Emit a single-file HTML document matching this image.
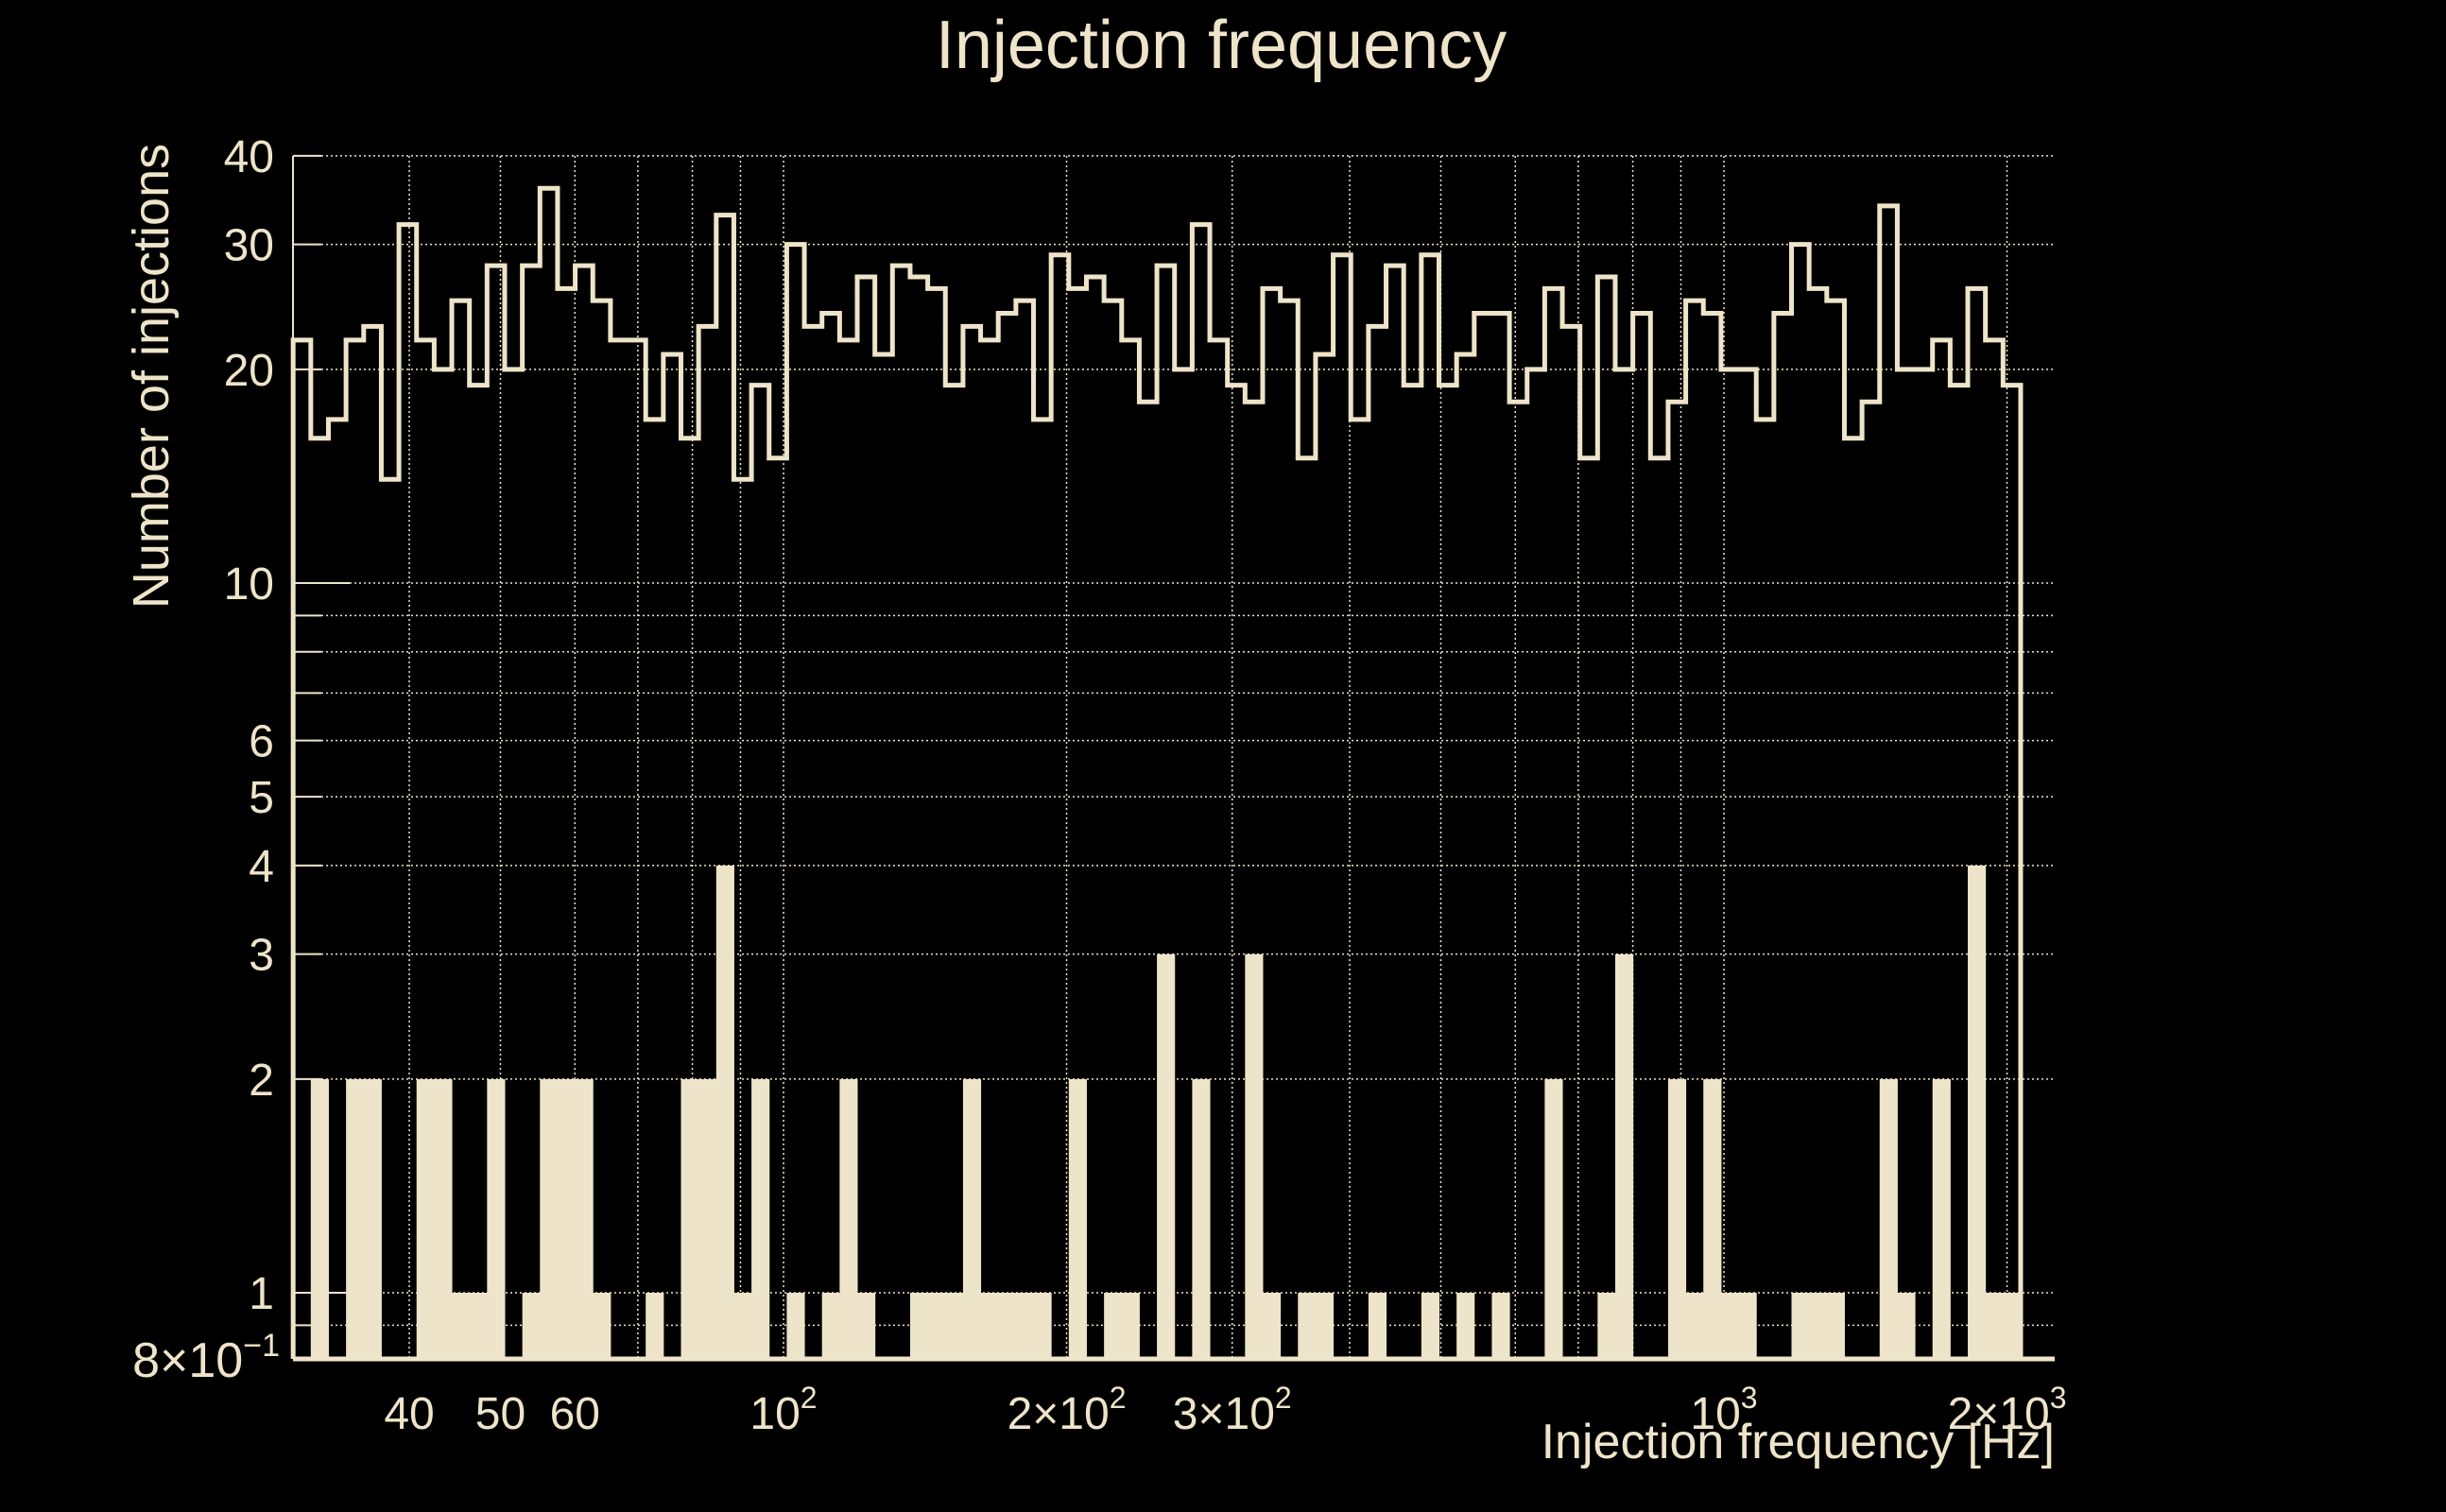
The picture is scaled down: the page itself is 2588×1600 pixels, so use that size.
<!DOCTYPE html>
<html><head><meta charset="utf-8"><title>Injection frequency</title>
<style>
html,body{margin:0;padding:0;background:#000;}
svg{display:block;}
text{font-family:"Liberation Sans",sans-serif;fill:#eee4c9;}
</style></head>
<body>
<svg id="chart" width="2588" height="1600" viewBox="0 0 2588 1600" xmlns="http://www.w3.org/2000/svg">
<rect x="0" y="0" width="2588" height="1600" fill="#000"/>
<text x="1292" y="72" font-size="72" text-anchor="middle">Injection frequency</text>
<text transform="translate(178,398) rotate(-90)" font-size="54" text-anchor="middle">Number of injections</text>
<text x="2174" y="1543" font-size="52" text-anchor="end">Injection frequency [Hz]</text>
<g id="grid"></g>
<g id="bars"></g>
<g id="line"></g>
<g id="axes"></g>
</svg>
<script>
const totalCounts = [22,16,17,22,23,14,32,22,20,25,19,28,20,28,36,26,28,25,22,22,17,21,16,23,33,14,19,
15,30,23,24,22,27,21,28,27,26,19,23,22,24,25,17,29,26,27,25,22,18,28,20,32,
22,19,18,26,25,15,21,29,17,23,28,19,29,19,21,24,24,18,20,26,23,15,27,20,24,
15,18,25,24,20,20,17,24,30,26,25,16,18,34,20,20,22,19,26,22,19];
const selectedCounts = [0,2,0,2,2,0,0,2,2,1,1,2,0,1,2,2,2,1,0,0,1,0,2,2,4,1,2,
0,1,0,1,2,1,0,0,1,1,1,2,1,1,1,1,0,2,0,1,1,0,3,0,2,
0,0,3,1,0,1,1,0,0,1,0,0,1,0,1,0,1,0,0,2,0,0,1,3,0,
0,2,1,2,1,1,0,0,1,1,1,0,0,2,1,0,2,0,4,1,1];
const binLow = 30.1;
const binHigh = 2068;
const xGridValues = [40,50,60,70,80,90,100,200,300,400,500,600,700,800,900,1000,2000];
const xTickValues = [40,50,60,100,200,300,1000,2000];
const xTickLabels = ["40","50","60","10|2","2×10|2","3×10|2","10|3","2×10|3"];
const yGridValues = [40,30,20,10,9,8,7,6,5,4,3,2,1,0.9];
const yTickValues = [40,30,20,10,6,5,4,3,2,1];
const yTickLabels = ["40","30","20","10","6","5","4","3","2","1"];

const NS="http://www.w3.org/2000/svg";
const C="#eee4c9";
const L=310,R=2174,T=165,B=1438;
const X0=829, DEC_X=995;
const Y1=1368, DEC_Y=751;
function xs(v){return X0+(Math.log10(v)-2)*DEC_X;}
function ys(v){return Y1-Math.log10(v)*DEC_Y;}
function mk(tag,attrs,parent){const e=document.createElementNS(NS,tag);for(const k in attrs)e.setAttribute(k,attrs[k]);parent.appendChild(e);return e;}

const grid=document.getElementById('grid');
xGridValues.forEach(v=>{
  const l=mk('line',{x1:xs(v),x2:xs(v),y1:T,y2:B,stroke:C,'stroke-width':1.5,'stroke-dasharray':'2 3'},grid);
  
  
});
yGridValues.forEach(v=>{
  const l=mk('line',{x1:L,x2:R,y1:ys(v),y2:ys(v),stroke:C,'stroke-width':1.5,'stroke-dasharray':'2 3'},grid);
  
  
});

const n=totalCounts.length;
const lb=Math.log10(binLow), hb=Math.log10(binHigh);
function edge(i){return xs(Math.pow(10,lb+(hb-lb)*i/n));}

const bars=document.getElementById('bars');
selectedCounts.forEach((v,i)=>{
  if(v<=0)return;
  const x1=edge(i),x2=edge(i+1);
  const r=mk('rect',{x:x1,y:ys(v),width:x2-x1+0.5,height:B-ys(v),fill:C},bars);
  
  
});

let d='M'+edge(0)+','+B;
totalCounts.forEach((v,i)=>{d+=' L'+edge(i)+','+ys(v)+' L'+edge(i+1)+','+ys(v);});
d+=' L'+edge(n)+','+B;
const p=mk('path',{d:d,fill:'none',stroke:C,'stroke-width':5,'stroke-linejoin':'miter'},document.getElementById('line'));



const axes=document.getElementById('axes');
const ya=mk('line',{x1:L,x2:L,y1:T,y2:B,stroke:C,'stroke-width':2},axes);


const xa=mk('line',{x1:L,x2:R,y1:B,y2:B,stroke:C,'stroke-width':5},axes);


yGridValues.forEach(v=>{
  const len=(v===10||v===1)?60:30;
  const t=mk('line',{x1:L,x2:L+len,y1:ys(v),y2:ys(v),stroke:C,'stroke-width':2},axes);
  
  
});
yTickValues.forEach((v,i)=>{
  const t=mk('text',{x:290,y:ys(v)+17,'font-size':48,'text-anchor':'end'},axes);
  t.textContent=yTickLabels[i];
  
  
});
const yb=mk('text',{x:296,y:B+19,'font-size':52,'text-anchor':'end'},axes);


yb.appendChild(document.createTextNode('8×10'));
const ybs=mk('tspan',{dy:-22,'font-size':34},yb);ybs.textContent='−1';

xTickValues.forEach((v,i)=>{
  const parts=xTickLabels[i].split('|');
  const t=mk('text',{x:xs(v),y:1512,'font-size':48,'text-anchor':'middle'},axes);
  
  
  t.appendChild(document.createTextNode(parts[0]));
  if(parts[1]){const s=mk('tspan',{dy:-22,'font-size':32},t);s.textContent=parts[1];}
});
</script>
</body></html>
